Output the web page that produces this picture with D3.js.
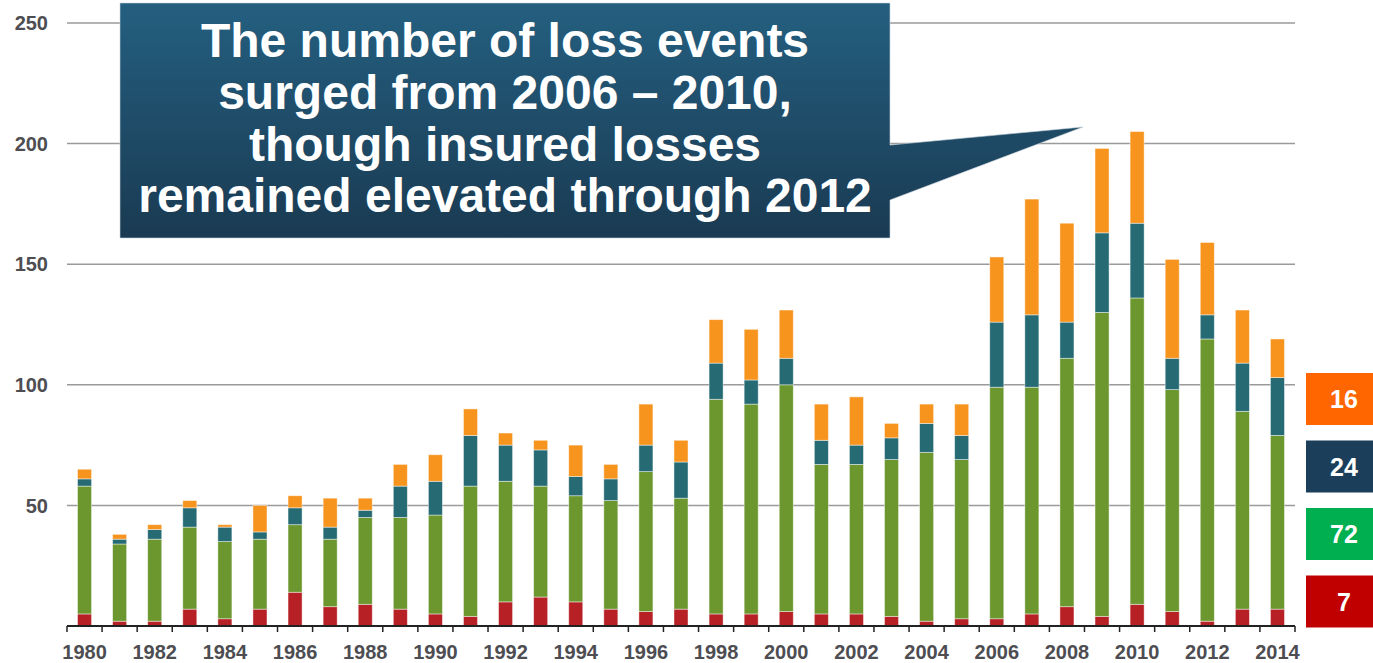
<!DOCTYPE html>
<html>
<head>
<meta charset="utf-8">
<script src="https://cdn.jsdelivr.net/npm/d3@7"></script>
<style>
  html, body { margin: 0; padding: 0; background: #fff; }
  svg { display: block; font-family: "Liberation Sans", Arial, sans-serif; }
</style>
</head>
<body>
<svg id="chart" width="1373" height="663"></svg>
<script>
const years = d3.range(1980, 2015).map(String);
const geophysical = [5,2,2,7,3,7,14,8,9,7, 5,4,10,12,10,7,6,7,5,5, 6,5,5,4,2,3,3,5,8,4, 9,6,2,7,7];
const meteorological = [53,32,34,34,32,29,28,28,36,38, 41,54,50,46,44,45,58,46,89,87, 94,62,62,65,70,66,96,94,103,126, 127,92,117,82,72];
const hydrological = [3,2,4,8,6,3,7,5,3,13, 14,21,15,15,8,9,11,15,15,10, 11,10,8,9,12,10,27,30,15,33, 31,13,10,20,24];
const climatological = [4,2,2,3,1,11,5,12,5,9, 11,11,5,4,13,6,17,9,18,21, 20,15,20,6,8,13,27,48,41,35, 38,41,30,22,16];
const yTicks = [50, 100, 150, 200, 250];
const xLabelYears = years.filter((y, i) => i % 2 === 0);
const legendValues = ["16", "24", "72", "7"];
const calloutLines = [
  "The number of loss events",
  "surged from 2006 \u2013 2010,",
  "though insured losses",
  "remained elevated through 2012"
];

(function () {
const seriesKeys = ["geo", "met", "hyd", "cli"];
const barColors = { geo: "#b72025", met: "#6b972e", hyd: "#266a74", cli: "#f7941e" };
const legendColors = ["#ff6600", "#1b3f5a", "#00b050", "#c00000"];

const table = years.map((yr, i) => ({
  year: yr, geo: geophysical[i], met: meteorological[i], hyd: hydrological[i], cli: climatological[i]
}));

const svg = d3.select("#chart");
const pL = 67, pR = 1295, pT = 23, pB = 626;

const x = d3.scaleBand().domain(years).range([pL, pR]).paddingInner(0.6).paddingOuter(0.3);
const y = d3.scaleLinear().domain([0, 250]).range([pB, pT]);

// gridlines
svg.append("g").selectAll("line").data(yTicks).join("line")
  .attr("x1", pL).attr("x2", pR)
  .attr("y1", d => y(d)).attr("y2", d => y(d))
  .attr("stroke", "#9a9a9a").attr("stroke-width", 1.5);

// y labels
svg.append("g").selectAll("text").data(yTicks).join("text")
  .attr("x", 48).attr("y", d => y(d)).attr("dy", "0.36em")
  .attr("text-anchor", "end")
  .attr("font-size", 20).attr("font-weight", "bold").attr("fill", "#4d4d52")
  .text(d => d);

// stacked bars
const stacked = d3.stack().keys(seriesKeys)(table);
svg.append("g").selectAll("g").data(stacked).join("g")
  .attr("fill", d => barColors[d.key])
  .selectAll("rect").data(d => d).join("rect")
  .attr("x", d => x(d.data.year))
  .attr("width", x.bandwidth())
  .attr("y", d => y(d[1]))
  .attr("height", d => y(d[0]) - y(d[1]))
  .attr("stroke", "rgba(255,255,255,0.55)")
  .attr("stroke-width", 0.8);

// x axis
const xb = d3.scaleBand().domain(years).range([pL, pR]);
const axisG = svg.append("g");
axisG.append("line").attr("x1", pL).attr("x2", pR)
  .attr("y1", 626).attr("y2", 626).attr("stroke", "#222").attr("stroke-width", 2);
const tickXs = years.map(d => xb(d)).concat([pR]);
axisG.selectAll("line.tick").data(tickXs).join("line").attr("class", "tick")
  .attr("x1", d => d).attr("x2", d => d)
  .attr("y1", 626).attr("y2", 632)
  .attr("stroke", "#222").attr("stroke-width", 1.5);
axisG.selectAll("text").data(xLabelYears).join("text")
  .attr("x", d => x(d) + x.bandwidth() / 2)
  .attr("y", 659)
  .attr("text-anchor", "middle")
  .attr("font-size", 20).attr("font-weight", "bold").attr("fill", "#4d4d52")
  .text(d => d);

// callout
const defs = svg.append("defs");
const grad = defs.append("linearGradient").attr("id", "cg")
  .attr("gradientUnits", "userSpaceOnUse")
  .attr("x1", 0).attr("y1", 3).attr("x2", 0).attr("y2", 238);
grad.append("stop").attr("offset", "0%").attr("stop-color", "#245f80");
grad.append("stop").attr("offset", "100%").attr("stop-color", "#1a3a52");

const bx0 = 120, bx1 = 890, by0 = 3, by1 = 238;
const path = d3.path();
path.moveTo(bx0, by0);
path.lineTo(bx1, by0);
path.lineTo(bx1, 145);
path.lineTo(1083, 127);
path.lineTo(bx1, 200);
path.lineTo(bx1, by1);
path.lineTo(bx0, by1);
path.closePath();
svg.append("path").attr("d", path.toString())
  .attr("fill", "url(#cg)")
  .attr("stroke", "#c8d3dc").attr("stroke-width", 0.6);

svg.append("g").selectAll("text").data(calloutLines).join("text")
  .attr("x", 505)
  .attr("y", (d, i) => 57 + i * 51.8)
  .attr("text-anchor", "middle")
  .attr("font-size", 48).attr("font-weight", "bold").attr("fill", "#fff")
  .text(d => d);

// legend value boxes
const lg = svg.append("g").selectAll("g").data(legendValues).join("g")
  .attr("transform", (d, i) => `translate(1306, ${373 + i * 67.5})`);
lg.append("rect").attr("width", 67).attr("height", 52)
  .attr("fill", (d, i) => legendColors[i]);
lg.append("text").attr("x", 38).attr("y", 26).attr("dy", "0.36em")
  .attr("text-anchor", "middle")
  .attr("font-size", 25).attr("font-weight", "bold").attr("fill", "#fff")
  .text(d => d);
})();
</script>
</body>
</html>
